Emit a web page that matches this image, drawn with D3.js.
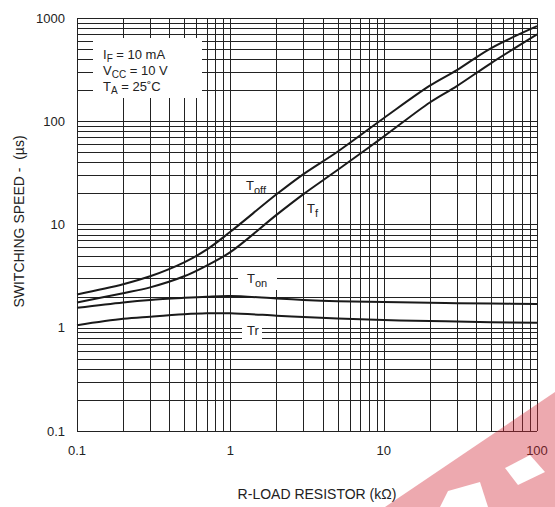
<!DOCTYPE html>
<html>
<head>
<meta charset="utf-8">
<script src="https://cdn.jsdelivr.net/npm/d3@7"></script>
<style>
  body { margin: 0; background: #fff; }
  text { font-family: "Liberation Sans", Arial, sans-serif; fill: #222; }
</style>
</head>
<body>
<div id="chart"></div>
<script>
// Data
const resistance = [0.1, 0.2, 0.3, 0.5, 0.7, 1, 2, 3, 5, 10, 20, 30, 50, 100];
const tOff = [2.1, 2.64, 3.15, 4.3, 5.7, 8.5, 19.6, 30.8, 50.7, 107, 221, 313, 509, 833];
const tF   = [1.76, 2.16, 2.46, 3.15, 4.0, 5.4, 12.4, 19.7, 33.7, 71, 152, 219, 364, 693];
const tOn  = [1.56, 1.76, 1.86, 1.95, 2.0, 2.03, 1.92, 1.86, 1.81, 1.78, 1.75, 1.73, 1.72, 1.7];
const tR   = [1.06, 1.22, 1.28, 1.35, 1.38, 1.38, 1.31, 1.27, 1.23, 1.19, 1.16, 1.15, 1.13, 1.12];
const xTickLabels = ["0.1", "1", "10", "100"];
const yTickLabels = ["0.1", "1", "10", "100", "1000"];

const width = 555;
const height = 507;
const margin = {left: 77, right: 18, top: 18, bottom: 76};

const svg = d3.select("#chart")
    .append("svg")
    .attr("width", width)
    .attr("height", height);

const x = d3.scaleLog().domain([0.1, 100]).range([margin.left, width - margin.right]);
const y = d3.scaleLog().domain([0.1, 1000]).range([height - margin.bottom, margin.top]);

// Grid
const grid = svg.append("g").attr("stroke", "#222").attr("stroke-width", 1);
grid.selectAll("line.v")
    .data(x.ticks())
    .enter()
    .append("line")
    .attr("x1", d => Math.round(x(d)) + 0.5)
    .attr("x2", d => Math.round(x(d)) + 0.5)
    .attr("y1", y(1000))
    .attr("y2", y(0.1));
grid.selectAll("line.h")
    .data(y.ticks())
    .enter()
    .append("line")
    .attr("y1", d => Math.round(y(d)) + 0.5)
    .attr("y2", d => Math.round(y(d)) + 0.5)
    .attr("x1", x(0.1))
    .attr("x2", x(100));

// Inset box hides the grid
svg.append("rect")
    .attr("x", 93).attr("y", 38).attr("width", 109).attr("height", 60)
    .attr("fill", "#fff");

const inset = svg.append("g").attr("font-size", 13);
const insetLines = [["I", "F", " = 10 mA"], ["V", "CC", " = 10 V"], ["T", "A", " = 25˚C"]];
insetLines.forEach((l, i) => {
    const t = inset.append("text").attr("x", 103).attr("y", 59 + i * 16);
    t.append("tspan").text(l[0]);
    t.append("tspan").attr("font-size", 10).attr("dy", 3).text(l[1]);
    t.append("tspan").attr("dy", -3).text(l[2]);
});

// Curves
const line = d3.line()
    .x(d => x(d[0]))
    .y(d => y(d[1]))
    .curve(d3.curveCatmullRom.alpha(0.5));

[tOff, tF, tOn, tR].forEach(series => {
    svg.append("path")
        .datum(resistance.map((r, i) => [r, series[i]]))
        .attr("d", line)
        .attr("fill", "none")
        .attr("stroke", "#1a1a1a")
        .attr("stroke-width", 2);
});

// Curve labels
svg.append("rect").attr("x", 238).attr("y", 267).attr("width", 39).attr("height", 23).attr("fill", "#fff");
svg.append("rect").attr("x", 242).attr("y", 322).attr("width", 20).attr("height", 17).attr("fill", "#fff");

const curveLabels = [
    {main: "T", sub: "off", x: 246, y: 190},
    {main: "T", sub: "f", x: 307, y: 213},
    {main: "T", sub: "on", x: 247, y: 283},
    {main: "Tr", sub: "", x: 247, y: 335}
];
curveLabels.forEach(l => {
    const t = svg.append("text").attr("x", l.x).attr("y", l.y).attr("font-size", 13);
    t.append("tspan").text(l.main);
    if (l.sub) t.append("tspan").attr("font-size", 11).attr("dy", 4).text(l.sub);
});

// Tick labels
svg.selectAll("text.xt")
    .data(xTickLabels)
    .enter()
    .append("text")
    .attr("x", d => x(+d))
    .attr("y", 455)
    .attr("text-anchor", "middle")
    .attr("font-size", 13)
    .text(d => d);

svg.selectAll("text.yt")
    .data(yTickLabels)
    .enter()
    .append("text")
    .attr("x", 65)
    .attr("y", d => y(+d) + 4.5)
    .attr("text-anchor", "end")
    .attr("font-size", 13)
    .text(d => d);

// Axis titles
svg.append("text")
    .attr("x", 317)
    .attr("y", 499)
    .attr("text-anchor", "middle")
    .attr("font-size", 14)
    .text("R-LOAD RESISTOR (kΩ)");

svg.append("text")
    .attr("transform", "translate(24," + (y(10) - 3) + ") rotate(-90)")
    .attr("text-anchor", "middle")
    .attr("font-size", 14)
    .style("white-space", "pre")
    .text("SWITCHING SPEED -  (µs)");

// Watermark in the corner
const mark = svg.append("g");
mark.append("path")
    .attr("d", "M385,507 L555,392 L555,507 Z")
    .attr("fill", "rgb(210,40,55)")
    .attr("opacity", 0.4);
mark.append("path")
    .attr("d", "M505,468 L530,455 L545,472 L518,485 Z")
    .attr("fill", "#fff");
mark.append("path")
    .attr("d", "M440,507 L448,491 L480,482 L488,507 Z")
    .attr("fill", "#fff");
</script>
</body>
</html>
